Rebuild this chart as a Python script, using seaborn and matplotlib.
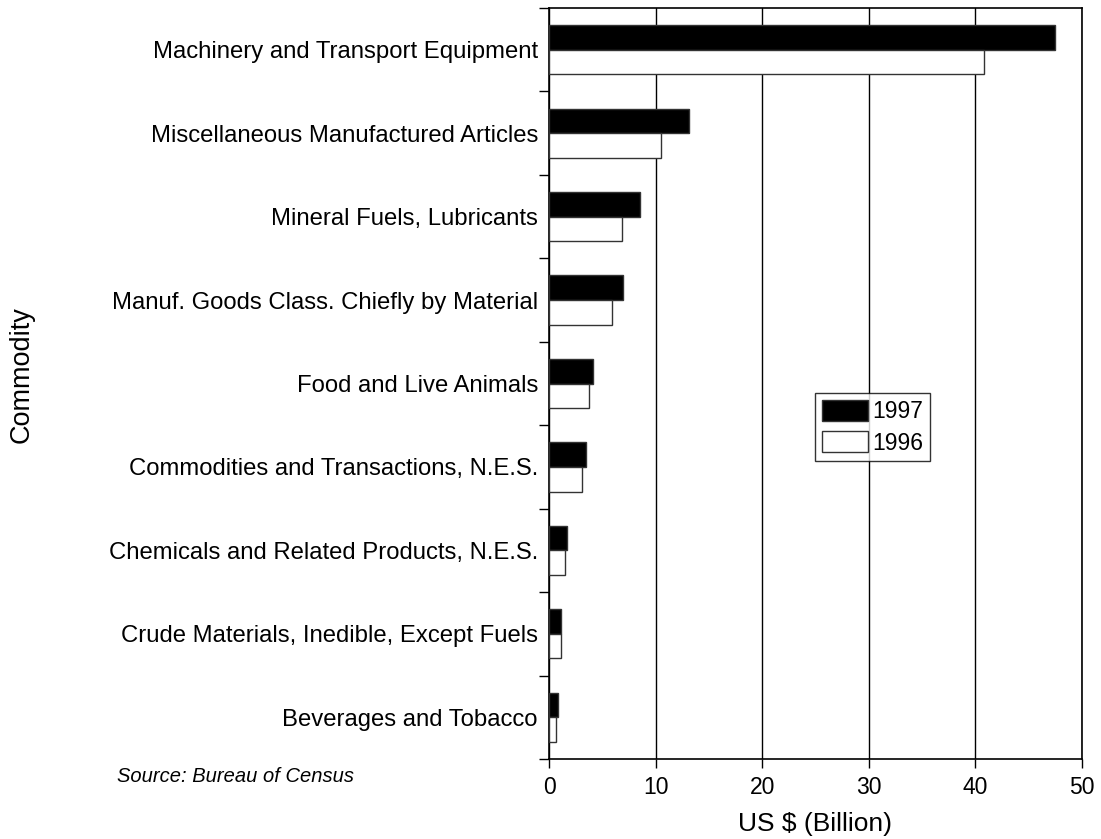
import matplotlib
matplotlib.use("Agg")
import matplotlib.pyplot as plt
import seaborn as sns
import pandas as pd
import numpy as np

categories = [
    "Machinery and Transport Equipment",
    "Miscellaneous Manufactured Articles",
    "Mineral Fuels, Lubricants",
    "Manuf. Goods Class. Chiefly by Material",
    "Food and Live Animals",
    "Commodities and Transactions, N.E.S.",
    "Chemicals and Related Products, N.E.S.",
    "Crude Materials, Inedible, Except Fuels",
    "Beverages and Tobacco",
]
values_1997 = [47.5, 13.1, 8.5, 6.9, 4.1, 3.5, 1.65, 1.15, 0.85]
values_1996 = [40.8, 10.5, 6.85, 5.9, 3.75, 3.1, 1.5, 1.1, 0.7]
years = ["1997", "1996"]
x_ticks = [0, 10, 20, 30, 40, 50]

df = pd.DataFrame({
    "Commodity": categories * 2,
    "Value": values_1997 + values_1996,
    "Year": [years[0]] * len(categories) + [years[1]] * len(categories),
})

sns.set_theme(style="white")
plt.rcParams["font.family"] = ["Liberation Sans", "DejaVu Sans"]
plt.rcParams["text.color"] = "black"
plt.rcParams["axes.labelcolor"] = "black"
plt.rcParams["xtick.color"] = "black"
plt.rcParams["ytick.color"] = "black"

fig = plt.figure(figsize=(11.01, 8.39), dpi=100)
W, H = 1101, 839
ax = fig.add_axes([549 / W, 1 - 759 / H, (1082 - 549) / W, (759 - 8) / H])

sns.barplot(data=df, x="Value", y="Commodity", hue="Year", order=categories,
            hue_order=years, palette={"1997": "black", "1996": "white"},
            edgecolor="#333333", linewidth=1.0, width=0.59, ax=ax, zorder=3)

ax.set_xlim(0, 50)
ax.set_ylim(len(categories) - 0.5, -0.5)
ax.set_xticks(x_ticks)
ax.set_xticklabels([str(t) for t in x_ticks], fontsize=16.5)
ax.xaxis.grid(True, color="black", linewidth=1.0, zorder=0)
ax.yaxis.grid(False)
ax.set_axisbelow(True)

ax.tick_params(axis="x", which="major", direction="out", length=6.5, width=1,
               color="black", pad=6, bottom=True)
ax.tick_params(axis="y", which="major", length=0, pad=8, labelsize=17.2)
ax.set_yticks(np.arange(-0.5, len(categories), 1.0), minor=True)
ax.tick_params(axis="y", which="minor", direction="out", length=7, width=1,
               color="black", left=True)

for s in ax.spines.values():
    s.set_visible(True)
    s.set_color("black")
    s.set_linewidth(1.2)

ax.set_xlabel("US $ (Billion)", fontsize=19, labelpad=9)
ax.set_ylabel("")
fig.text(22 / W, 1 - 375 / H, "Commodity", rotation=90, fontsize=19.5,
         ha="center", va="center")
fig.text(117 / W, 1 - 777 / H, "Source: Bureau of Census", fontsize=14.5,
         style="italic", ha="left", va="center")

leg = ax.legend(title=None, loc="center left", bbox_to_anchor=(0.499, 0.442),
                frameon=True, fancybox=False, fontsize=16.5,
                handlelength=2.0, handleheight=1.05, borderpad=0.3,
                labelspacing=0.35, handletextpad=0.2, borderaxespad=0)
leg.get_frame().set_edgecolor("black")
leg.get_frame().set_linewidth(1.0)
leg.set_zorder(5)

fig.savefig("out.png", dpi=100, facecolor="white")
